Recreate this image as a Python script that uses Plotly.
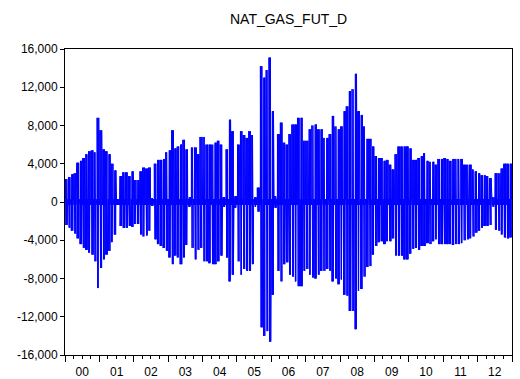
import pandas as pd
import plotly.graph_objects as go

# Monthly burst peaks (thousands), Jan 2000 .. Dec 2012
pos_peak = [
    2.4, 2.6, 2.9, 3.0, 4.1, 4.3, 4.6, 5.0, 5.3, 5.4, 5.2, 8.8,      # 2000
    7.5, 5.5, 5.3, 5.0, 4.0, 3.3, 0.3, 2.7, 3.1, 3.1, 2.7, 3.2,      # 2001
    2.3, 2.3, 3.2, 3.6, 3.5, 3.6, 0.4, 4.0, 4.4, 4.4, 4.5, 5.2,      # 2002
    5.4, 7.5, 5.6, 5.8, 6.0, 6.5, 5.5, 0.5, 5.7, 5.7, 5.0, 6.8,      # 2003
    6.8, 6.0, 6.0, 6.0, 6.2, 6.4, 6.0, 0.5, 5.5, 8.6, 7.4, 0.6,      # 2004
    6.0, 7.4, 7.0, 6.7, 7.4, 7.0, 0.5, 1.5, 14.2, 13.0, 13.8, 15.1,  # 2005
    9.5, 0.6, 7.1, 8.3, 6.2, 6.0, 7.1, 8.1, 8.1, 8.8, 8.8, 6.4,      # 2006
    6.4, 7.6, 8.0, 8.1, 7.6, 7.6, 6.7, 6.7, 7.1, 9.0, 7.9, 7.6,      # 2007
    7.9, 9.5, 10.0, 11.6, 11.8, 13.4, 9.5, 9.1, 7.9, 6.6, 6.6, 5.8,  # 2008
    4.8, 4.6, 4.6, 4.3, 4.4, 3.9, 3.4, 5.0, 5.8, 5.8, 5.8, 5.8,      # 2009
    5.6, 4.4, 4.4, 4.6, 4.8, 5.1, 4.3, 4.2, 4.2, 3.9, 4.5, 4.5,      # 2010
    4.6, 4.5, 4.3, 4.5, 4.5, 4.5, 4.5, 3.9, 3.9, 3.9, 3.4, 3.2,      # 2011
    3.0, 2.8, 2.8, 2.7, 2.5, 0.5, 3.0, 3.0, 3.5, 4.0, 4.0, 4.0,      # 2012
]
neg_peak = [
    -2.4, -2.7, -3.0, -3.3, -3.8, -4.4, -4.8, -5.0, -5.3, -5.5, -6.2, -9.0,
    -6.9, -6.0, -5.5, -5.1, -4.2, -3.4, -0.3, -2.5, -2.7, -2.7, -2.5, -2.6,
    -2.3, -2.3, -3.4, -3.6, -3.5, -3.0, -0.4, -3.9, -4.4, -4.6, -4.8, -5.1,
    -5.8, -6.5, -5.6, -5.8, -6.5, -5.8, -4.5, -0.5, -4.8, -6.0, -5.0, -4.8,
    -6.2, -6.2, -6.4, -6.5, -6.5, -6.2, -5.6, -0.5, -5.8, -8.3, -7.6, -0.6,
    -6.2, -7.6, -7.0, -7.2, -7.2, -6.5, -0.5, -1.0, -13.1, -14.0, -13.5, -14.6,
    -9.7, -0.6, -7.2, -8.3, -6.5, -6.3, -7.6, -7.8, -8.3, -8.8, -8.8, -7.2,
    -7.0, -7.6, -7.9, -8.0, -7.6, -7.2, -7.2, -7.0, -7.2, -8.3, -8.0, -8.6,
    -8.1, -9.7, -9.8, -11.4, -11.4, -13.3, -9.3, -9.1, -7.8, -6.8, -6.7, -5.5,
    -4.6, -4.2, -4.1, -4.4, -4.1, -4.1, -3.8, -5.6, -5.6, -5.6, -6.0, -6.0,
    -5.4, -4.9, -4.8, -5.0, -4.6, -4.6, -4.3, -4.4, -4.1, -3.9, -4.4, -4.4,
    -4.4, -4.4, -4.4, -4.5, -4.4, -4.4, -4.3, -4.0, -3.9, -3.8, -3.6, -3.2,
    -3.0, -2.7, -2.5, -2.5, -2.4, -0.5, -2.9, -3.0, -3.4, -3.7, -3.8, -3.7,
]
base_level = 0.3  # thickness of the near-zero band (thousands)

y_tickvals = [16000, 12000, 8000, 4000, 0, -4000, -8000, -12000, -16000]
y_ticktext = ["16,000", "12,000", "8,000", "4,000", "0", "-4,000", "-8,000", "-12,000", "-16,000"]

months = pd.date_range("2000-01-01", periods=len(pos_peak), freq="MS")

xs, ys = [], []
for m, start in enumerate(months):
    days = pd.bdate_range(start, start + pd.offsets.MonthEnd(0))
    n = len(days)
    lo, hi = int(n * 0.2), int(n * 0.85)
    for i, d in enumerate(days):
        if lo <= i < hi:
            v = pos_peak[m] if (i - lo) % 2 == 0 else neg_peak[m]
        else:
            v = base_level if i % 2 == 0 else -base_level
        xs.append(d)
        ys.append(v * 1000)

fig = go.Figure()
fig.add_trace(go.Scatter(x=xs, y=ys, mode="lines",
                         line=dict(color="#0000FF", width=1), hoverinfo="skip"))

font = "Liberation Sans, Arial, sans-serif"
fig.update_layout(
    width=520, height=379,
    margin=dict(l=65, r=8, t=49, b=24, autoexpand=False),
    paper_bgcolor="white", plot_bgcolor="white",
    showlegend=False,
    title=dict(text="NAT_GAS_FUT_D", x=0.555, xanchor="center", y=0.95, yanchor="middle",
               font=dict(family=font, size=14, color="black")),
    font=dict(family=font, size=12, color="black"),
)
fig.update_xaxes(
    type="date", range=["2000-01-01", "2013-01-01"], automargin=False,
    tick0="2000-01-01", dtick="M12", tickformat="%y", ticklabelmode="period",
    ticks="outside", ticklen=6, tickcolor="black", tickwidth=1,
    minor=dict(dtick="M3", ticks="outside", ticklen=3, tickcolor="black", tickwidth=1, showgrid=False),
    showgrid=False, zeroline=False,
    showline=True, linecolor="black", linewidth=1, mirror=True,
    tickfont=dict(family=font, size=12, color="black"),
)
fig.update_yaxes(
    range=[-16000, 16000], tickvals=y_tickvals, ticktext=y_ticktext, automargin=False,
    ticks="outside", ticklen=4, tickcolor="black", tickwidth=1,
    showgrid=False, zeroline=False,
    showline=True, linecolor="black", linewidth=1, mirror=True,
    tickfont=dict(family=font, size=12, color="black"),
)
fig.write_html("out.html")
